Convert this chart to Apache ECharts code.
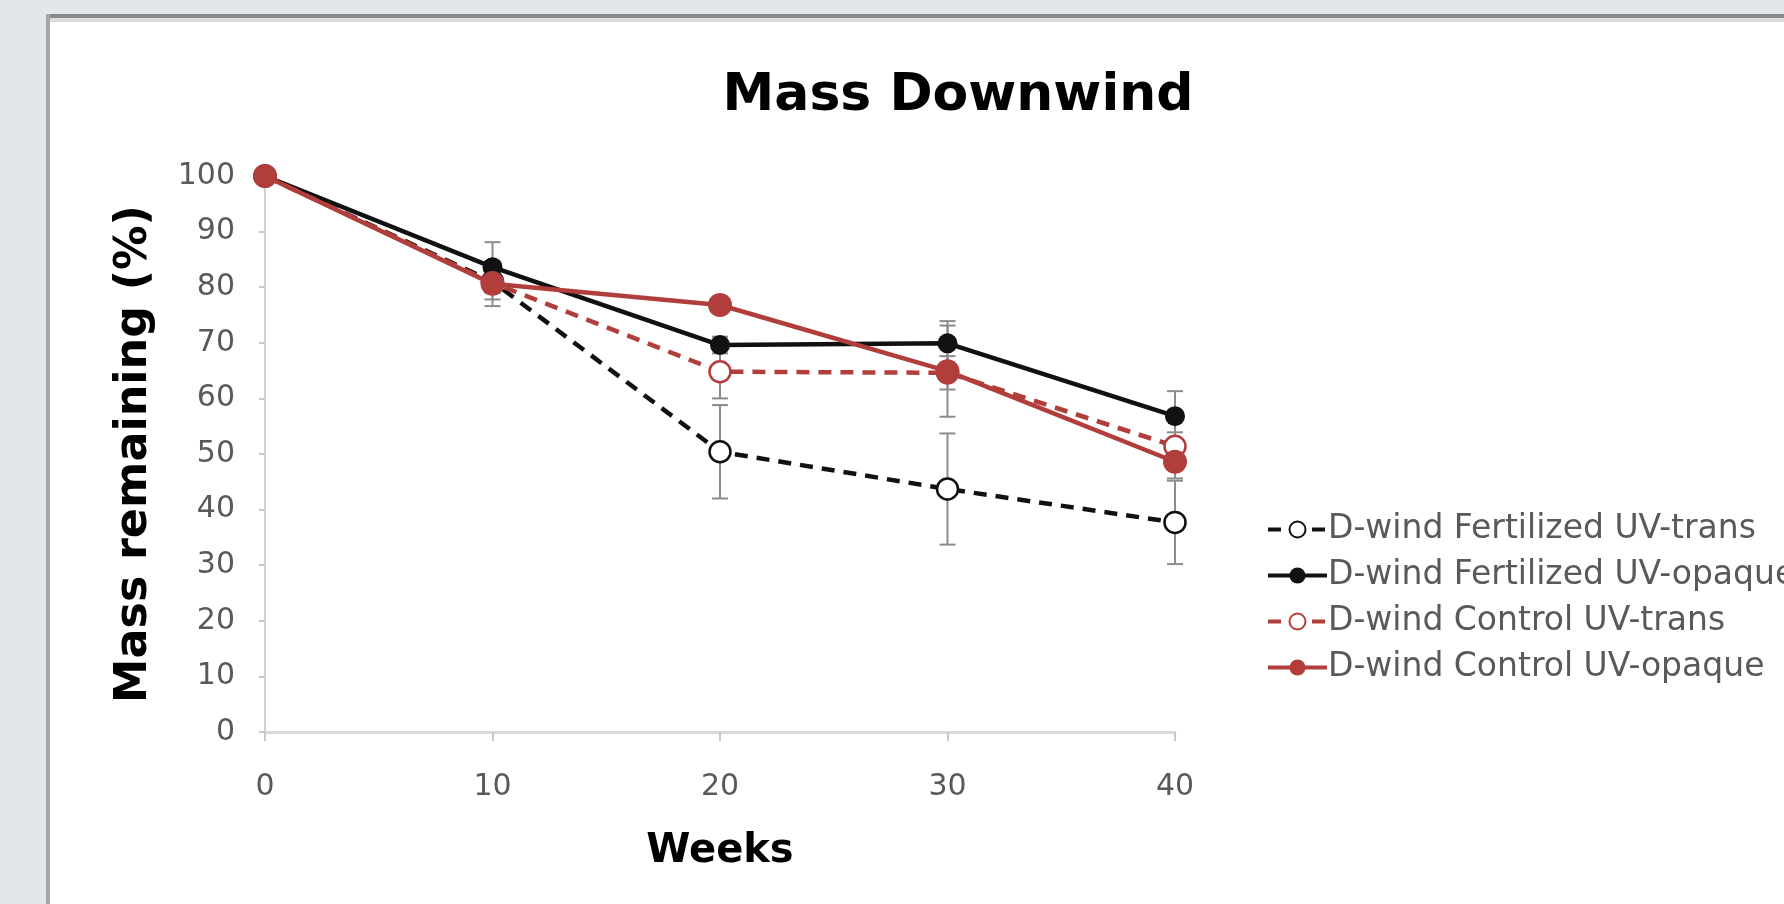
<!DOCTYPE html>
<html>
<head>
<meta charset="utf-8">
<script src="https://cdn.jsdelivr.net/npm/echarts@6/dist/echarts.min.js"></script>
<style>
html,body{margin:0;padding:0;background:#e3e6ea;overflow:hidden;}
#chart{width:1784px;height:904px;}
</style>
</head>
<body>
<div id="chart"></div>
<script>
// ---- data ----
const weeks = [0, 10, 20, 30, 40];
const xTicks = [0, 10, 20, 30, 40];
const yTicks = [0, 10, 20, 30, 40, 50, 60, 70, 80, 90, 100];
const seriesNames = [
  'D-wind Fertilized UV-trans',
  'D-wind Fertilized UV-opaque',
  'D-wind Control UV-trans',
  'D-wind Control UV-opaque'
];
const fertTrans     = [100, 81.0, 50.4, 43.7, 37.7];
const fertTransErr  = [0, 2.0, 8.4, 10.0, 7.5];
const fertOpaque    = [100, 83.6, 69.6, 69.9, 56.8];
const fertOpaqueErr = [0, 4.5, 1.5, 4.0, 4.5];
const ctrlTrans     = [100, 80.8, 64.8, 64.6, 51.4];
const ctrlTransErr  = [0, 3.0, 4.8, 3.0, 2.5];
const ctrlOpaque    = [100, 80.6, 76.8, 64.9, 48.6];
const ctrlOpaqueErr = [0, 4.0, 1.5, 8.2, 3.0];

const BLACK = '#111111';
const RED = '#b23e3b';
const FONT = '"DejaVu Sans"';

function pts(vals) { return weeks.map((w, i) => [w, vals[i]]); }
function errData(vals, errs) { return weeks.map((w, i) => [w, vals[i] - errs[i], vals[i] + errs[i]]); }

function errSeries(vals, errs) {
  return {
    type: 'custom',
    silent: true,
    z: 1,
    data: errData(vals, errs),
    renderItem: function (params, api) {
      const x = api.value(0);
      const lo = api.coord([x, api.value(1)]);
      const hi = api.coord([x, api.value(2)]);
      if (Math.abs(hi[1] - lo[1]) < 1) return null;
      const hw = 8;
      const st = { stroke: '#8c8c8c', lineWidth: 2 };
      return {
        type: 'group',
        children: [
          { type: 'line', shape: { x1: lo[0], y1: lo[1], x2: hi[0], y2: hi[1] }, style: st },
          { type: 'line', shape: { x1: lo[0] - hw, y1: lo[1], x2: lo[0] + hw, y2: lo[1] }, style: st },
          { type: 'line', shape: { x1: hi[0] - hw, y1: hi[1], x2: hi[0] + hw, y2: hi[1] }, style: st }
        ]
      };
    }
  };
}

const chart = echarts.init(document.getElementById('chart'), null, { renderer: 'canvas' });

const option = {
  animation: false,
  backgroundColor: 'transparent',
  graphic: [
    { type: 'rect', z: -10, shape: { x: 46, y: 14, width: 1800, height: 900 }, style: { fill: '#ffffff' } },
    { type: 'rect', z: -9, shape: { x: 46, y: 14, width: 1800, height: 4 }, style: { fill: '#8a8a8a' } },
    { type: 'rect', z: -9, shape: { x: 50, y: 18, width: 1800, height: 4 }, style: { fill: '#dcdcdc' } },
    { type: 'rect', z: -9, shape: { x: 46, y: 14, width: 4, height: 900 }, style: { fill: '#a6a6a6' } }
  ],
  title: {
    text: 'Mass Downwind',
    left: 953,
    top: 65,
    textAlign: 'center',
    textStyle: { fontFamily: FONT, fontWeight: 'bold', fontSize: 52, color: '#000' }
  },
  grid: { left: 265, right: 609, top: 176, bottom: 172 },
  legend: {
    orient: 'vertical',
    left: 1261,
    top: 508,
    itemWidth: 59,
    itemHeight: 20,
    itemGap: 13,
    data: seriesNames,
    lineStyle: { width: 4 },
    textStyle: { fontFamily: FONT, fontSize: 33, color: '#595959', padding: [0, 0, 0, -4] }
  },
  xAxis: {
    type: 'value',
    min: 0, max: 40, interval: 10,
    name: 'Weeks',
    nameLocation: 'middle',
    nameGap: 100,
    nameTextStyle: { fontFamily: FONT, fontWeight: 'bold', fontSize: 40, color: '#000' },
    axisLine: { show: true, lineStyle: { color: '#d9d9d9', width: 3 } },
    axisTick: { show: true, length: 9, lineStyle: { color: '#c8c8c8', width: 2 } },
    axisLabel: { fontFamily: FONT, fontSize: 30, color: '#595959', margin: 40,
      formatter: v => xTicks.includes(v) ? String(v) : '' },
    splitLine: { show: false }
  },
  yAxis: {
    type: 'value',
    min: 0, max: 100, interval: 10,
    name: 'Mass remaining (%)',
    nameLocation: 'middle',
    nameRotate: 90,
    nameGap: 108,
    nameTextStyle: { fontFamily: FONT, fontWeight: 'bold', fontSize: 44.5, color: '#000' },
    axisLine: { show: true, lineStyle: { color: '#d0d0d0', width: 2 } },
    axisTick: { show: true, length: 6, lineStyle: { color: '#c8c8c8', width: 2 } },
    axisLabel: { fontFamily: FONT, fontSize: 30, color: '#595959', margin: 30,
      formatter: v => yTicks.includes(v) ? String(v) : '' },
    splitLine: { show: false }
  },
  series: [
    errSeries(fertTrans, fertTransErr),
    errSeries(fertOpaque, fertOpaqueErr),
    errSeries(ctrlTrans, ctrlTransErr),
    errSeries(ctrlOpaque, ctrlOpaqueErr),
    {
      name: seriesNames[0], type: 'line', z: 3, data: pts(fertTrans),
      symbol: 'circle', symbolSize: 21,
      lineStyle: { color: BLACK, width: 4.5, type: [13, 9] },
      itemStyle: { color: '#ffffff', borderColor: BLACK, borderWidth: 2.5 }
    },
    {
      name: seriesNames[1], type: 'line', z: 4, data: pts(fertOpaque),
      symbol: 'circle', symbolSize: 20,
      lineStyle: { color: BLACK, width: 4.5 },
      itemStyle: { color: BLACK, borderColor: BLACK, borderWidth: 0 }
    },
    {
      name: seriesNames[2], type: 'line', z: 5, data: pts(ctrlTrans),
      symbol: 'circle', symbolSize: 21,
      lineStyle: { color: RED, width: 4.5, type: [13, 9] },
      itemStyle: { color: '#ffffff', borderColor: RED, borderWidth: 2.5 }
    },
    {
      name: seriesNames[3], type: 'line', z: 6, data: pts(ctrlOpaque),
      symbol: 'circle', symbolSize: 24,
      lineStyle: { color: RED, width: 4.5 },
      itemStyle: { color: RED, borderWidth: 0 }
    }
  ]
};
chart.setOption(option);
</script>
</body>
</html>
